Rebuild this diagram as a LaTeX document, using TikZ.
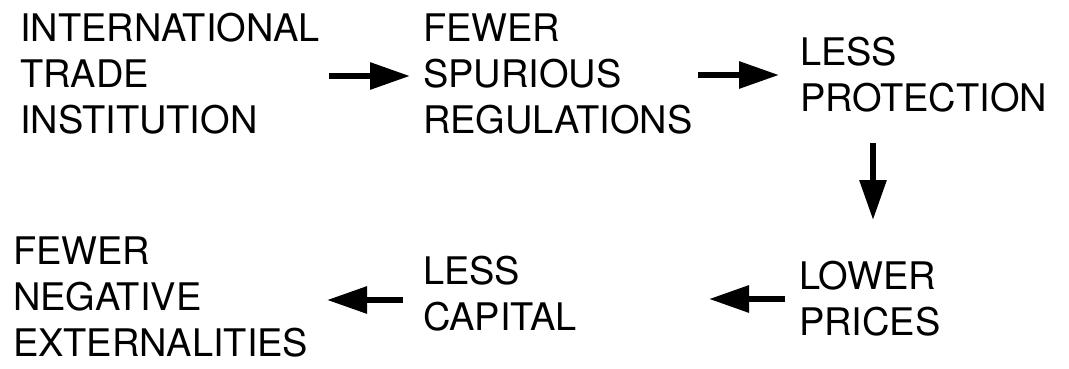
\documentclass[tikz,border=0pt]{standalone}
\usepackage{fontspec}
\setmainfont{TeX Gyre Heros}
\usetikzlibrary{arrows.meta}
\tikzset{
  lbl/.style={anchor=base west, inner sep=0pt, outer sep=0pt, align=left,
    font=\fontsize{38}{46}\selectfont},
  arr/.style={line width=6pt, -{Triangle[length=40pt,width=26pt]}}
}
\begin{document}
\begin{tikzpicture}[x=1pt,y=-1pt]
\useasboundingbox[fill=white] (0,0) rectangle (1069,369);
\node[lbl] (a) at (20,133) {INTERNATIONAL\\TRADE\\INSTITUTION};
\node[lbl] (b) at (423,133) {FEWER\\SPURIOUS\\REGULATIONS};
\node[lbl] (c) at (800,111.7) {LESS\\PROTECTION};
\node[lbl] (d) at (799,335) {LOWER\\PRICES};
\node[lbl] (e) at (423,330) {LESS\\CAPITAL};
\node[lbl] (f) at (13,356.7) {FEWER\\NEGATIVE\\EXTERNALITIES};
\coordinate (a1) at (329,76);
\coordinate (b1) at (410,76);
\coordinate (b2) at (698,75);
\coordinate (c1) at (779,75);
\coordinate (c2) at (873,143);
\coordinate (d1) at (873,220);
\coordinate (d2) at (785,299);
\coordinate (e1) at (709,299);
\coordinate (e2) at (403,300);
\coordinate (f1) at (327,300);
\draw[arr] (a1) -- (b1);
\draw[arr] (b2) -- (c1);
\draw[arr] (c2) -- (d1);
\draw[arr] (d2) -- (e1);
\draw[arr] (e2) -- (f1);
\end{tikzpicture}
\end{document}
